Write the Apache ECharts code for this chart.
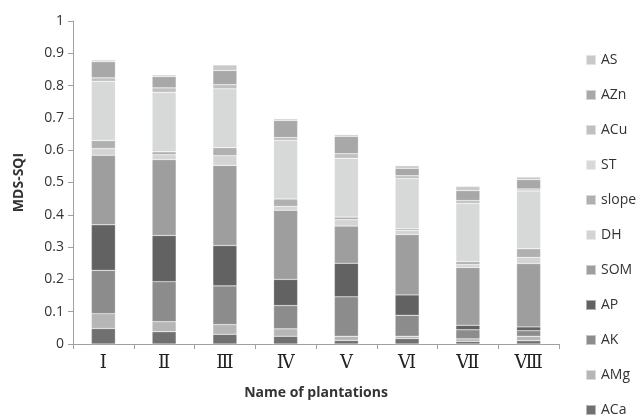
<!DOCTYPE html>
<html>
<head>
<meta charset="utf-8">
<script src="https://cdn.jsdelivr.net/npm/echarts@6/dist/echarts.min.js"></script>
<style>
  html, body { margin: 0; padding: 0; background: #fff; }
  #chart { width: 641px; height: 419px; }
</style>
</head>
<body>
<div id="chart"></div>
<script>
// plantations on the x axis
const plantations = ['Ⅰ', 'Ⅱ', 'Ⅲ', 'Ⅳ', 'Ⅴ', 'Ⅵ', 'Ⅶ', 'Ⅷ']
const yTicks = [0, 0.1, 0.2, 0.3, 0.4, 0.5, 0.6, 0.7, 0.8, 0.9, 1]

// segment heights, stacked bottom (ACa) to top (AS)
const ACa   = [0.048, 0.038, 0.030, 0.024, 0.011, 0.017, 0.008, 0.010]
const AMg   = [0.046, 0.031, 0.030, 0.023, 0.013, 0.007, 0.008, 0.014]
const AK    = [0.134, 0.124, 0.120, 0.072, 0.122, 0.065, 0.028, 0.017]
const AP    = [0.141, 0.143, 0.125, 0.081, 0.104, 0.063, 0.014, 0.012]
const SOM   = [0.215, 0.235, 0.248, 0.214, 0.115, 0.187, 0.179, 0.196]
const DH    = [0.021, 0.015, 0.030, 0.012, 0.020, 0.013, 0.009, 0.019]
const slope = [0.025, 0.009, 0.025, 0.023, 0.008, 0.005, 0.009, 0.027]
const ST    = [0.183, 0.184, 0.182, 0.181, 0.182, 0.155, 0.180, 0.179]
const ACu   = [0.011, 0.014, 0.013, 0.009, 0.014, 0.009, 0.009, 0.006]
const AZn   = [0.050, 0.035, 0.044, 0.053, 0.054, 0.023, 0.031, 0.029]
const AS    = [0.005, 0.005, 0.017, 0.005, 0.005, 0.008, 0.013, 0.008]

const seriesNames = ['ACa', 'AMg', 'AK', 'AP', 'SOM', 'DH', 'slope', 'ST', 'ACu', 'AZn', 'AS']
const seriesData = [ACa, AMg, AK, AP, SOM, DH, slope, ST, ACu, AZn, AS]
const seriesColors = ['#707070', '#b6b6b6', '#8c8c8c', '#626262', '#9d9e9d', '#d4d4d4',
                      '#b0b0b0', '#d7d9d8', '#c0c0c0', '#a8a8a8', '#c9c9c9']

let chart = echarts.init(document.getElementById('chart'))

let series = seriesNames.map((name, i) => ({
  name: name,
  type: 'bar',
  stack: 'sqi',
  barWidth: 24,
  itemStyle: { color: seriesColors[i], borderColor: 'rgba(255,255,255,0.5)', borderWidth: 0.5 },
  data: seriesData[i]
}))

let option = {
  animation: false,
  grid: { left: 73, right: 82, top: 21, bottom: 75 },
  legend: {
    orient: 'vertical',
    left: 585,
    top: 53,
    padding: 0,
    data: seriesNames.slice().reverse(),
    icon: 'rect',
    itemWidth: 10,
    itemHeight: 10,
    itemGap: 21,
    textStyle: { fontFamily: 'Open Sans', fontSize: 14, color: '#333' }
  },
  xAxis: {
    type: 'category',
    data: plantations,
    name: 'Name of plantations',
    nameLocation: 'middle',
    nameGap: 42,
    nameTextStyle: { fontFamily: 'Open Sans', fontWeight: 'bold', fontSize: 14, color: '#333' },
    axisLine: { lineStyle: { color: '#a0a0a0' } },
    axisTick: { show: true, length: 5, lineStyle: { color: '#a0a0a0' } },
    axisLabel: { fontFamily: 'DejaVu Serif', fontSize: 18, color: '#222', margin: 10 }
  },
  yAxis: {
    type: 'value',
    min: yTicks[0],
    max: yTicks[yTicks.length - 1],
    interval: 0.1,
    name: 'MDS-SQI',
    nameLocation: 'middle',
    nameGap: 47,
    nameTextStyle: { fontFamily: 'Open Sans', fontWeight: 'bold', fontSize: 14, color: '#333' },
    axisLine: { show: true, lineStyle: { color: '#a0a0a0' } },
    axisTick: { show: true, length: 5, lineStyle: { color: '#a0a0a0' } },
    splitLine: { show: false },
    axisLabel: {
      fontFamily: 'Open Sans', fontSize: 14, color: '#333', margin: 9,
      formatter: v => String(Math.round(v * 10) / 10)
    }
  },
  series: series
}
chart.setOption(option)
</script>
</body>
</html>
